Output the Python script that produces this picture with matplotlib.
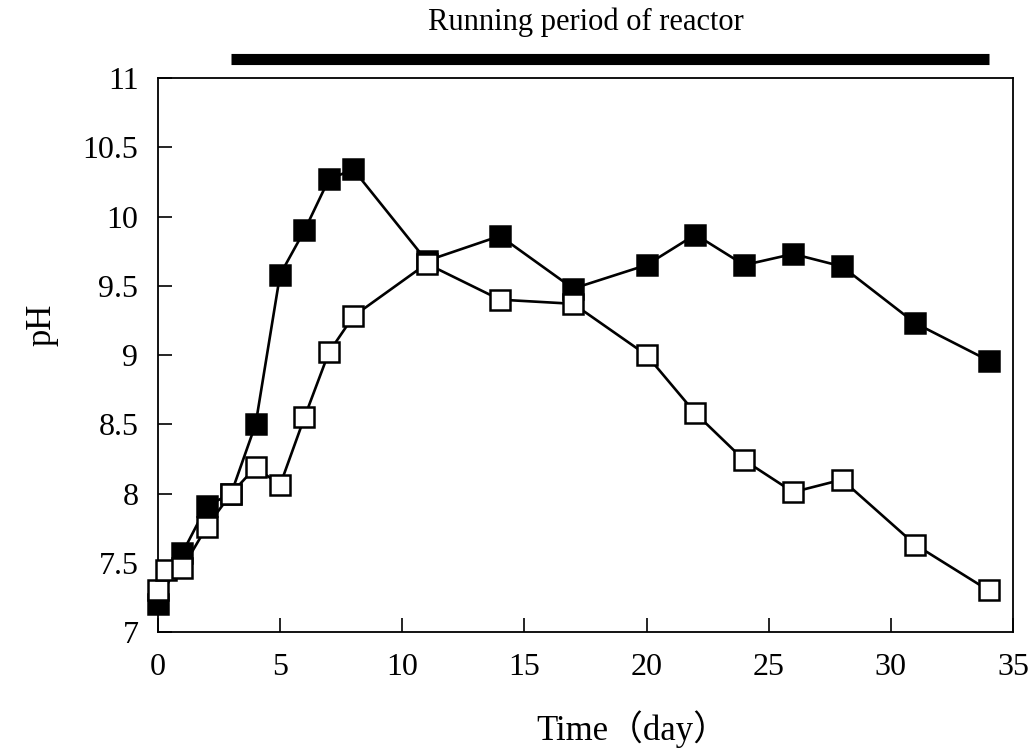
import matplotlib
matplotlib.use("Agg")
import matplotlib.pyplot as plt
import matplotlib.transforms as mtransforms

# pH with time, two runs (filled and open squares)
days_filled = [0, 1, 2, 3, 4, 5, 6, 7, 8, 11, 14, 17, 20, 22, 24, 26, 28, 31, 34]
ph_filled = [7.2, 7.57, 7.91, 8.0, 8.5, 9.58, 9.9, 10.27, 10.34, 9.68,
             9.86, 9.48, 9.65, 9.87, 9.65, 9.73, 9.64, 9.23, 8.96]

days_open = [0, 0.33, 1, 2, 3, 4, 5, 6, 7, 8, 11, 14, 17, 20, 22, 24, 26, 28, 31, 34]
ph_open = [7.3, 7.45, 7.46, 7.76, 8.0, 8.19, 8.06, 8.55, 9.02, 9.28, 9.66,
           9.4, 9.37, 9.0, 8.58, 8.24, 8.01, 8.1, 7.63, 7.3]

run_start, run_end = 3, 34
x_ticks = [0, 5, 10, 15, 20, 25, 30, 35]
y_ticks = [7, 7.5, 8, 8.5, 9, 9.5, 10, 10.5, 11]
y_ticklabels = ['7', '7.5', '8', '8.5', '9', '9.5', '10', '10.5', '11']

plt.rcParams['font.family'] = ['Liberation Serif', 'Noto Sans CJK JP', 'DejaVu Sans']

fig = plt.figure(figsize=(10.32, 7.51), dpi=100)
ax = fig.add_axes([0.153, 0.1585, 0.8286, 0.7375])

ax.plot(days_filled, ph_filled, color='black', lw=1.9, marker='s', ms=14,
        mfc='black', mec='black', mew=1.8, zorder=3, clip_on=False)
ax.plot(days_open, ph_open, color='black', lw=1.9, marker='s', ms=14,
        mfc='white', mec='black', mew=1.8, zorder=4, clip_on=False)

ax.set_xlim(0, 35)
ax.set_ylim(7, 11)
ax.set_xticks(x_ticks)
ax.set_yticks(y_ticks)
ax.set_yticklabels(y_ticklabels)
ax.tick_params(direction='in', length=10, width=1.2, labelsize=23)
ax.tick_params(axis='x', pad=15)
ax.tick_params(axis='y', pad=14)
for s in ax.spines.values():
    s.set_linewidth(1.3)

# running period bar above the axes
trans = mtransforms.blended_transform_factory(ax.transData, ax.transAxes)
ax.plot([run_start, run_end], [1.034, 1.034], color='black', lw=8,
        solid_capstyle='butt', transform=trans, clip_on=False)
ax.text(0.5, 1.10, 'Running period of reactor', transform=ax.transAxes,
        ha='center', va='center', fontsize=22)

ax.text(0.555, -0.176, 'Time（day）', transform=ax.transAxes,
        ha='center', va='center', fontsize=25)
ax.text(-0.136, 0.554, 'pH', transform=ax.transAxes, rotation=90,
        ha='center', va='center', fontsize=25)

fig.savefig('out.png', dpi=100)
